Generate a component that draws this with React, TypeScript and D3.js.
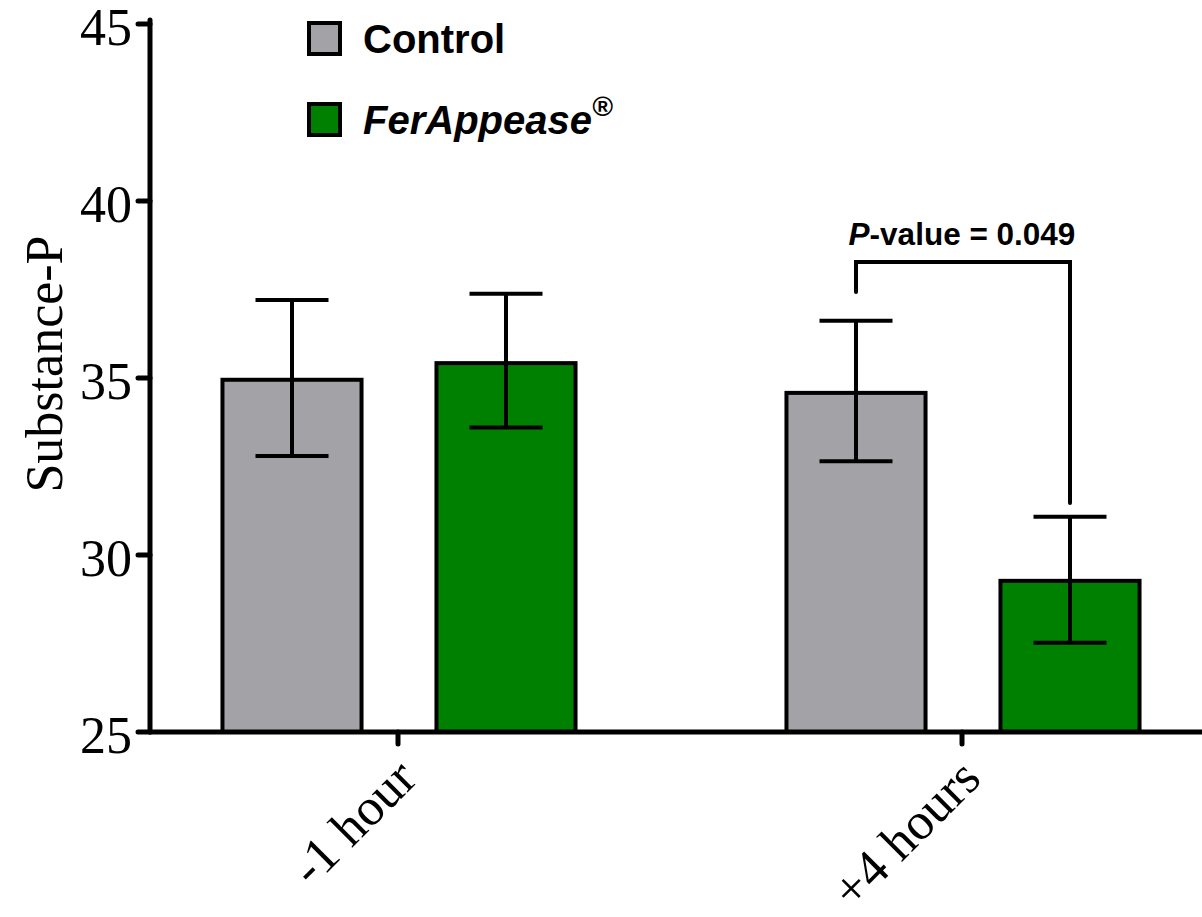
import React from "react";
import * as d3 from "d3";

const groups = ["-1 hour", "+4 hours"];
const series = ["Control", "FerAppease"];
const means = [
  [34.95, 35.42],
  [34.58, 29.27],
];
const upper = [
  [37.2, 37.38],
  [36.62, 31.08],
];
const lower = [
  [32.8, 33.6],
  [32.65, 27.52],
];
const yTicks = [25, 30, 35, 40, 45];
const colors = ["#a3a2a7", "#008000"];
const pValueLabel = "0.049";

export default function App() {
  const W = 1202, H = 917;
  const y = d3.scaleLinear().domain([25, 45]).range([732, 24]);
  const xg = d3.scalePoint<string>().domain(groups).range([398, 962]);
  const xs = d3.scaleBand<string>().domain(series).range([-212, 212]).paddingInner(0.344).paddingOuter(0.172);
  const bw = xs.bandwidth();
  const capW = 73;
  const axisX = 150;
  const serif = "'Liberation Serif', 'Times New Roman', serif";
  const sans = "'Liberation Sans', Arial, sans-serif";

  const barX = (gi: number, si: number) => (xg(groups[gi]) as number) + (xs(series[si]) as number);
  const barC = (gi: number, si: number) => barX(gi, si) + bw / 2;

  const bracketLeft = barC(1, 0);
  const bracketRight = barC(1, 1);
  const bracketY = 262;

  return (
    <svg width={W} height={H} style={{ position: "absolute", left: 0, top: 0, background: "#fff" }}>
      {/* bars */}
      {means.map((row, gi) =>
        row.map((v, si) => (
          <rect key={`b${gi}${si}`} x={barX(gi, si) + (si === 1 ? 2 : 0)} y={y(v)} width={bw} height={y(25) - y(v)}
            fill={colors[si]} stroke="#000" strokeWidth={4} />
        ))
      )}
      {/* error bars */}
      {means.map((row, gi) =>
        row.map((v, si) => {
          const cx = barC(gi, si) + (si === 1 ? 2 : 0);
          return (
            <g key={`e${gi}${si}`} stroke="#000" strokeWidth={4}>
              <line x1={cx} x2={cx} y1={y(upper[gi][si])} y2={y(lower[gi][si])} />
              <line x1={cx - capW / 2} x2={cx + capW / 2} y1={y(upper[gi][si])} y2={y(upper[gi][si])} />
              <line x1={cx - capW / 2} x2={cx + capW / 2} y1={y(lower[gi][si])} y2={y(lower[gi][si])} />
            </g>
          );
        })
      )}
      {/* y axis */}
      <line x1={axisX} x2={axisX} y1={y(45) - 4} y2={y(25)} stroke="#000" strokeWidth={5} strokeLinecap="round" />
      {yTicks.map((t) => (
        <g key={t}>
          <line x1={axisX - 12} x2={axisX} y1={y(t)} y2={y(t)} stroke="#000" strokeWidth={5} strokeLinecap="round" />
          <text x={132} y={y(t)} dy="0.4em" textAnchor="end" fontFamily={serif} fontSize={52} fill="#000">{t}</text>
        </g>
      ))}
      {/* x axis */}
      <line x1={axisX} x2={W} y1={y(25)} y2={y(25)} stroke="#000" strokeWidth={5} strokeLinecap="round" />
      {groups.map((g) => {
        const gx = xg(g) as number;
        return (
          <g key={g}>
            <line x1={gx} x2={gx} y1={y(25)} y2={y(25) + 12} stroke="#000" strokeWidth={5} strokeLinecap="round" />
            <text transform={`translate(${gx + 21},${781}) rotate(-45)`} textAnchor="end" fontFamily={serif} fontSize={52} fill="#000">{g}</text>
          </g>
        );
      })}
      {/* y label */}
      <text transform={`translate(62,364) rotate(-90)`} textAnchor="middle" fontFamily={serif} fontSize={52} fill="#000">Substance-P</text>
      {/* legend */}
      {series.map((s, i) => (
        <g key={s} transform={`translate(309,${23 + i * 81})`}>
          <rect x={0} y={0} width={31} height={31} fill={colors[i]} stroke="#000" strokeWidth={4} />
          <text x={54} y={30} fontFamily={sans} fontWeight="bold" fontSize={40} fontStyle={i === 1 ? "italic" : "normal"} fill="#000">
            {s}
            {i === 1 && <tspan dy={-18} fontSize={28}>®</tspan>}
          </text>
        </g>
      ))}
      {/* significance bracket */}
      <path d={`M${bracketLeft},${292} V${bracketY} H${bracketRight + 2} V${503}`} fill="none" stroke="#000" strokeWidth={4} strokeLinecap="round" />
      <text x={(bracketLeft + bracketRight) / 2} y={245} textAnchor="middle" fontFamily={sans} fontWeight="bold" fontSize={31.5} fill="#000">
        <tspan fontStyle="italic">P</tspan>-value = {pValueLabel}
      </text>
    </svg>
  );
}
